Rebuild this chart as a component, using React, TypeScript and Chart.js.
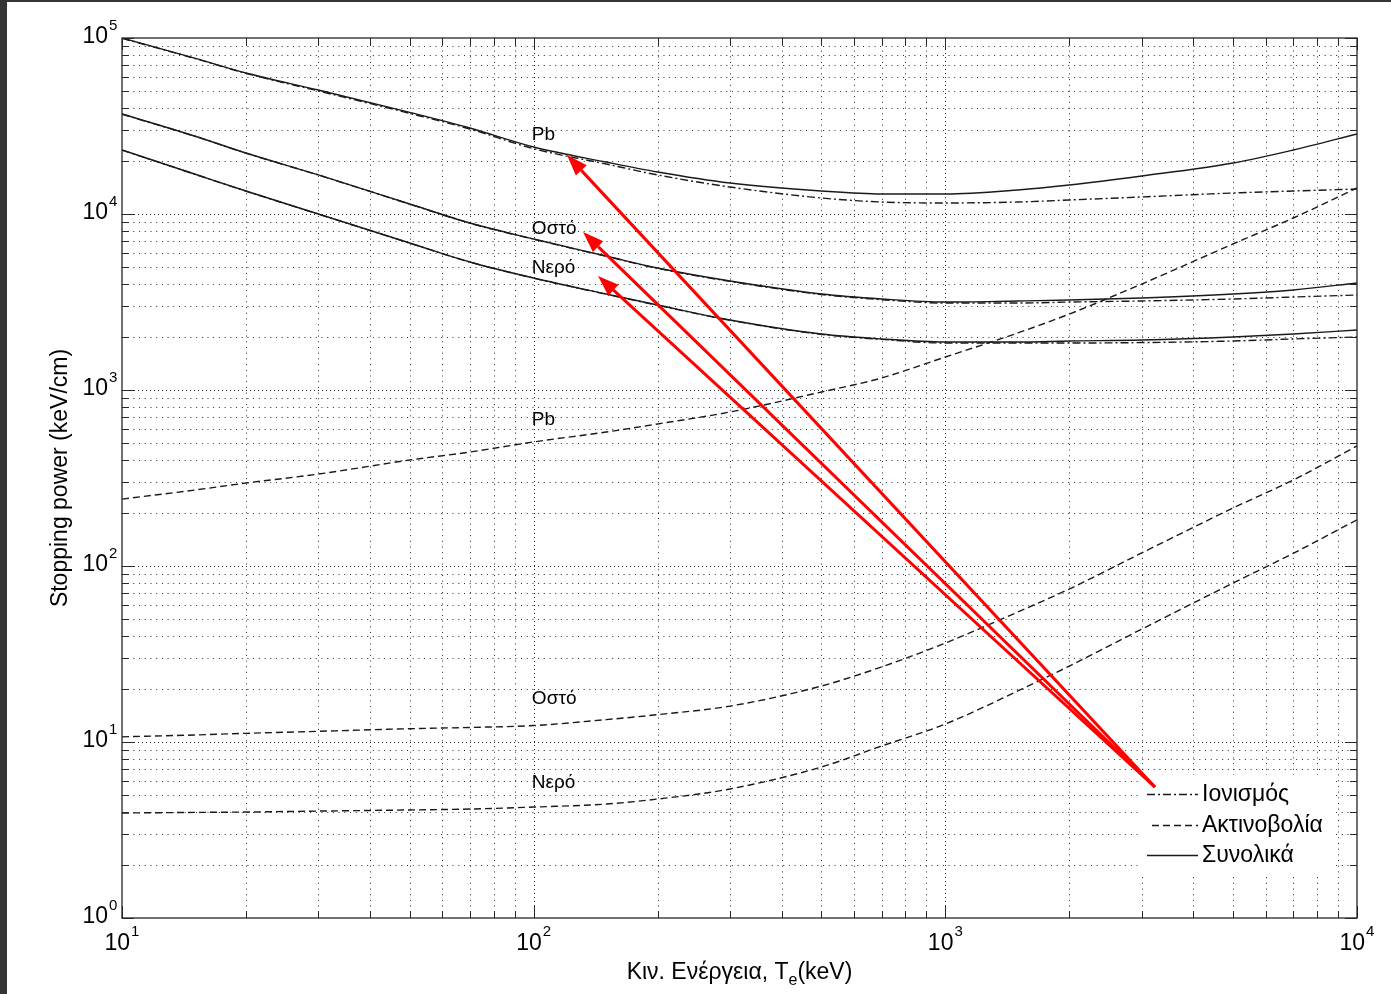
import React, { useEffect, useRef } from 'react';
import { Chart, registerables } from 'chart.js';
Chart.register(...registerables);

// Kinetic energy (keV)
const energies = [10, 15, 20, 30, 50, 70, 100, 150, 200, 300, 500, 700, 1000, 1500, 2000, 3000, 5000, 7000, 10000];

// Stopping power (keV/cm)
const pbTotal = [100000, 76900, 63250, 50650, 37800, 30820, 24040, 19730, 17330, 15000, 13510, 12990, 12990, 13690, 14610, 16440, 19490, 23100, 28490];
const pbIon = [99500, 76600, 63000, 50000, 37300, 30400, 23500, 19230, 16670, 14230, 12330, 11700, 11550, 11700, 12010, 12500, 13160, 13510, 13870];
const pbRad = [240, 270, 296, 333, 400, 444, 507, 577, 641, 750, 974, 1170, 1540, 2110, 2700, 4000, 6760, 9490, 14060];

const boneTotal = [37000, 27750, 22220, 16670, 11400, 8890, 7210, 5770, 4930, 4160, 3510, 3290, 3160, 3205, 3245, 3333, 3510, 3700, 4056];
const boneIon = [36900, 27700, 22180, 16640, 11380, 8870, 7190, 5750, 4910, 4140, 3490, 3260, 3120, 3120, 3160, 3205, 3290, 3375, 3467];
const boneRad = [10.7, 10.96, 11.2, 11.5, 11.9, 12.1, 12.4, 13.4, 14.3, 16.0, 20.8, 26.7, 36.5, 54.8, 74.0, 118.6, 213.6, 308, 481];

const waterTotal = [23100, 16870, 13510, 10000, 6840, 5340, 4330, 3510, 3040, 2500, 2080, 1950, 1874, 1874, 1898, 1923, 2000, 2080, 2193];
const waterIon = [23080, 16850, 13490, 9980, 6830, 5330, 4320, 3500, 3030, 2490, 2070, 1940, 1849, 1849, 1849, 1860, 1898, 1950, 2000];
const waterRad = [3.95, 3.98, 4.0, 4.05, 4.11, 4.16, 4.27, 4.44, 4.74, 5.41, 7.21, 9.49, 12.65, 19.5, 27.0, 43.8, 80.0, 118, 183];

// Axis ticks (decade exponents)
const xTickExponents = [1, 2, 3, 4];
const yTickExponents = [0, 1, 2, 3, 4, 5];

// Legend
const legendLabels = ['Ιονισμός', 'Ακτινοβολία', 'Συνολικά'];

// Curve labels (data coordinates)
const labelTexts = ['Pb', 'Οστό', 'Νερό', 'Pb', 'Οστό', 'Νερό'];
const labelX = [99, 99, 99, 99, 99, 99];
const labelY = [28100, 8220, 4930, 676, 17.5, 5.85];

// Red arrows (data coordinates)
const arrowTailX = 3228;
const arrowTailY = 5.55;
const arrowTipX = [120.5, 131.8, 143.3];
const arrowTipY = [21640, 7900, 4445];

const xTitleMain = 'Κιν. Ενέργεια, T';
const xTitleSub = 'e';
const xTitleEnd = '(keV)';
const yTitle = 'Stopping power (keV/cm)';

const LINE = '#1a1a1a';
const DASH_DOT = [8, 3, 2, 3];
const DASHED = [7, 4];
const FONT = '"Liberation Sans", Arial, sans-serif';

const toPts = (ys: number[]) => energies.map((x, i) => ({ x, y: ys[i] }));

const decorPlugin = {
  id: 'matlabDecor',
  beforeDatasetsDraw(chart: any) {
    const { ctx, chartArea: a, scales } = chart;
    const xs = scales.x;
    const ys = scales.y;
    ctx.save();
    ctx.fillStyle = '#ffffff';
    ctx.fillRect(a.left, a.top, a.right - a.left, a.bottom - a.top);
    ctx.beginPath();
    ctx.rect(a.left, a.top, a.right - a.left, a.bottom - a.top);
    ctx.clip();
    ctx.strokeStyle = '#2a2a2a';
    ctx.lineWidth = 1;
    for (let e = 1; e <= 3; e++) {
      for (let m = 1; m <= 9; m++) {
        if (e === 1 && m === 1) continue;
        const px = Math.round(xs.getPixelForValue(m * Math.pow(10, e))) + 0.5;
        ctx.setLineDash(m === 1 ? [1, 3] : [1, 4.7]);
        ctx.beginPath();
        ctx.moveTo(px, a.bottom);
        ctx.lineTo(px, a.top);
        ctx.stroke();
      }
    }
    for (let e = 0; e <= 4; e++) {
      for (let m = 1; m <= 9; m++) {
        if (e === 0 && m === 1) continue;
        const py = Math.round(ys.getPixelForValue(m * Math.pow(10, e))) + 0.5;
        ctx.setLineDash(m === 1 ? [1, 3] : [1, 4.7]);
        ctx.beginPath();
        ctx.moveTo(a.left, py);
        ctx.lineTo(a.right, py);
        ctx.stroke();
      }
    }
    ctx.restore();
  },
  afterDatasetsDraw(chart: any) {
    const { ctx, chartArea: a, scales } = chart;
    const xs = scales.x;
    const ys = scales.y;
    ctx.save();

    // curve labels
    ctx.fillStyle = '#000';
    ctx.font = `19px ${FONT}`;
    ctx.textAlign = 'left';
    ctx.textBaseline = 'middle';
    labelTexts.forEach((t, i) => {
      ctx.fillText(t, xs.getPixelForValue(labelX[i]), ys.getPixelForValue(labelY[i]));
    });

    // frame
    ctx.setLineDash([]);
    ctx.strokeStyle = '#262626';
    ctx.lineWidth = 1.3;
    ctx.strokeRect(a.left, a.top, a.right - a.left, a.bottom - a.top);

    // ticks (inward, all four sides)
    ctx.lineWidth = 1;
    for (let e = 1; e <= 4; e++) {
      for (let m = 1; m <= 9; m++) {
        if (e === 4 && m > 1) break;
        const v = m * Math.pow(10, e);
        const px = Math.round(xs.getPixelForValue(v)) + 0.5;
        const len = m === 1 ? 12 : 7;
        ctx.beginPath();
        ctx.moveTo(px, a.bottom); ctx.lineTo(px, a.bottom - len);
        ctx.moveTo(px, a.top); ctx.lineTo(px, a.top + len);
        ctx.stroke();
      }
    }
    for (let e = 0; e <= 5; e++) {
      for (let m = 1; m <= 9; m++) {
        if (e === 5 && m > 1) break;
        const v = m * Math.pow(10, e);
        const py = Math.round(ys.getPixelForValue(v)) + 0.5;
        const len = m === 1 ? 12 : 7;
        ctx.beginPath();
        ctx.moveTo(a.left, py); ctx.lineTo(a.left + len, py);
        ctx.moveTo(a.right, py); ctx.lineTo(a.right - len, py);
        ctx.stroke();
      }
    }

    // tick labels
    ctx.fillStyle = '#000';
    yTickExponents.forEach((e) => {
      const py = ys.getPixelForValue(Math.pow(10, e));
      ctx.font = `23px ${FONT}`;
      ctx.textAlign = 'right';
      ctx.textBaseline = 'middle';
      ctx.fillText('10', a.left - 14, py - 1);
      ctx.font = `15px ${FONT}`;
      ctx.textAlign = 'left';
      ctx.fillText(String(e), a.left - 13, py - 12);
    });
    xTickExponents.forEach((e) => {
      const px = xs.getPixelForValue(Math.pow(10, e));
      ctx.font = `23px ${FONT}`;
      const w1 = ctx.measureText('10').width;
      ctx.font = `15px ${FONT}`;
      const w2 = ctx.measureText(String(e)).width;
      const start = px - (w1 + 1 + w2) / 2;
      ctx.textAlign = 'left';
      ctx.textBaseline = 'middle';
      ctx.font = `23px ${FONT}`;
      ctx.fillText('10', start, a.bottom + 26);
      ctx.font = `15px ${FONT}`;
      ctx.fillText(String(e), start + w1 + 1, a.bottom + 14);
    });

    // x title
    ctx.textBaseline = 'alphabetic';
    ctx.font = `23px ${FONT}`;
    const wa = ctx.measureText(xTitleMain).width;
    const wc = ctx.measureText(xTitleEnd).width;
    ctx.font = `16px ${FONT}`;
    const wb = ctx.measureText(xTitleSub).width;
    const total = wa + wb + wc;
    const sx = (a.left + a.right) / 2 - total / 2;
    const by = a.bottom + 61;
    ctx.font = `23px ${FONT}`;
    ctx.fillText(xTitleMain, sx, by);
    ctx.font = `16px ${FONT}`;
    ctx.fillText(xTitleSub, sx + wa, by + 6);
    ctx.font = `23px ${FONT}`;
    ctx.fillText(xTitleEnd, sx + wa + wb, by);

    // y title
    ctx.save();
    ctx.translate(a.left - 61, (a.top + a.bottom) / 2);
    ctx.rotate(-Math.PI / 2);
    ctx.textAlign = 'center';
    ctx.textBaseline = 'middle';
    ctx.font = `23px ${FONT}`;
    ctx.fillText(yTitle, 0, 0);
    ctx.restore();

    // legend
    const lx0 = a.right - 217;
    const ly0 = a.bottom - 143;
    ctx.fillStyle = '#ffffff';
    ctx.fillRect(lx0, ly0, 193, 98);
    const rows = [a.bottom - 124, a.bottom - 93, a.bottom - 63];
    const dashes = [DASH_DOT, DASHED, []];
    const starts = [a.right - 210, a.right - 205, a.right - 210];
    ctx.strokeStyle = LINE;
    ctx.lineWidth = 1.4;
    rows.forEach((ry, i) => {
      ctx.setLineDash(dashes[i]);
      ctx.beginPath();
      ctx.moveTo(starts[i], ry + 0.5);
      ctx.lineTo(a.right - 159, ry + 0.5);
      ctx.stroke();
    });
    ctx.setLineDash([]);
    ctx.fillStyle = '#000';
    ctx.font = `23px ${FONT}`;
    ctx.textAlign = 'left';
    ctx.textBaseline = 'middle';
    legendLabels.forEach((t, i) => ctx.fillText(t, a.right - 155, rows[i] + 1));

    // red arrows
    const tx = xs.getPixelForValue(arrowTailX);
    const ty = ys.getPixelForValue(arrowTailY);
    ctx.strokeStyle = '#ff0000';
    ctx.fillStyle = '#ff0000';
    ctx.lineWidth = 3;
    arrowTipX.forEach((vx, i) => {
      const hx = xs.getPixelForValue(vx);
      const hy = ys.getPixelForValue(arrowTipY[i]);
      const ang = Math.atan2(hy - ty, hx - tx);
      const L = 21;
      const W = 7.5;
      const bx = hx - L * Math.cos(ang);
      const byy = hy - L * Math.sin(ang);
      ctx.beginPath();
      ctx.moveTo(tx, ty);
      ctx.lineTo(bx, byy);
      ctx.stroke();
      ctx.beginPath();
      ctx.moveTo(hx, hy);
      ctx.lineTo(bx + W * Math.sin(ang), byy - W * Math.cos(ang));
      ctx.lineTo(bx - W * Math.sin(ang), byy + W * Math.cos(ang));
      ctx.closePath();
      ctx.fill();
    });

    ctx.restore();
  },
};

export default function App() {
  const ref = useRef<HTMLCanvasElement>(null);
  useEffect(() => {
    if (!ref.current) return;
    const mk = (data: number[], dash: number[]) => ({
      data: toPts(data),
      borderColor: LINE,
      borderWidth: 1.4,
      borderDash: dash,
      pointRadius: 0,
      fill: false,
      cubicInterpolationMode: 'monotone',
    });
    const chart = new Chart(ref.current, {
      type: 'line',
      data: {
        datasets: [
          mk(pbTotal, []),
          mk(pbIon, DASH_DOT),
          mk(pbRad, DASHED),
          mk(boneTotal, []),
          mk(boneIon, DASH_DOT),
          mk(boneRad, DASHED),
          mk(waterTotal, []),
          mk(waterIon, DASH_DOT),
          mk(waterRad, DASHED),
        ],
      },
      options: {
        animation: false,
        responsive: false,
        devicePixelRatio: 1,
        layout: { padding: { left: 115, top: 36, right: 34, bottom: 76 } },
        plugins: { legend: { display: false }, tooltip: { enabled: false } },
        scales: {
          x: { type: 'logarithmic', min: 10, max: 10000, display: false },
          y: { type: 'logarithmic', min: 1, max: 100000, display: false },
        },
      },
      plugins: [decorPlugin],
    } as any);
    return () => chart.destroy();
  }, []);
  return (
    <div style={{ position: 'fixed', left: 0, top: 0, width: 1391, height: 994, background: '#353535' }}>
      <div style={{ position: 'absolute', left: 7, top: 2, width: 1384, height: 992, background: '#ffffff' }}>
        <canvas ref={ref} width={1384} height={992} style={{ display: 'block' }} />
      </div>
    </div>
  );
}
